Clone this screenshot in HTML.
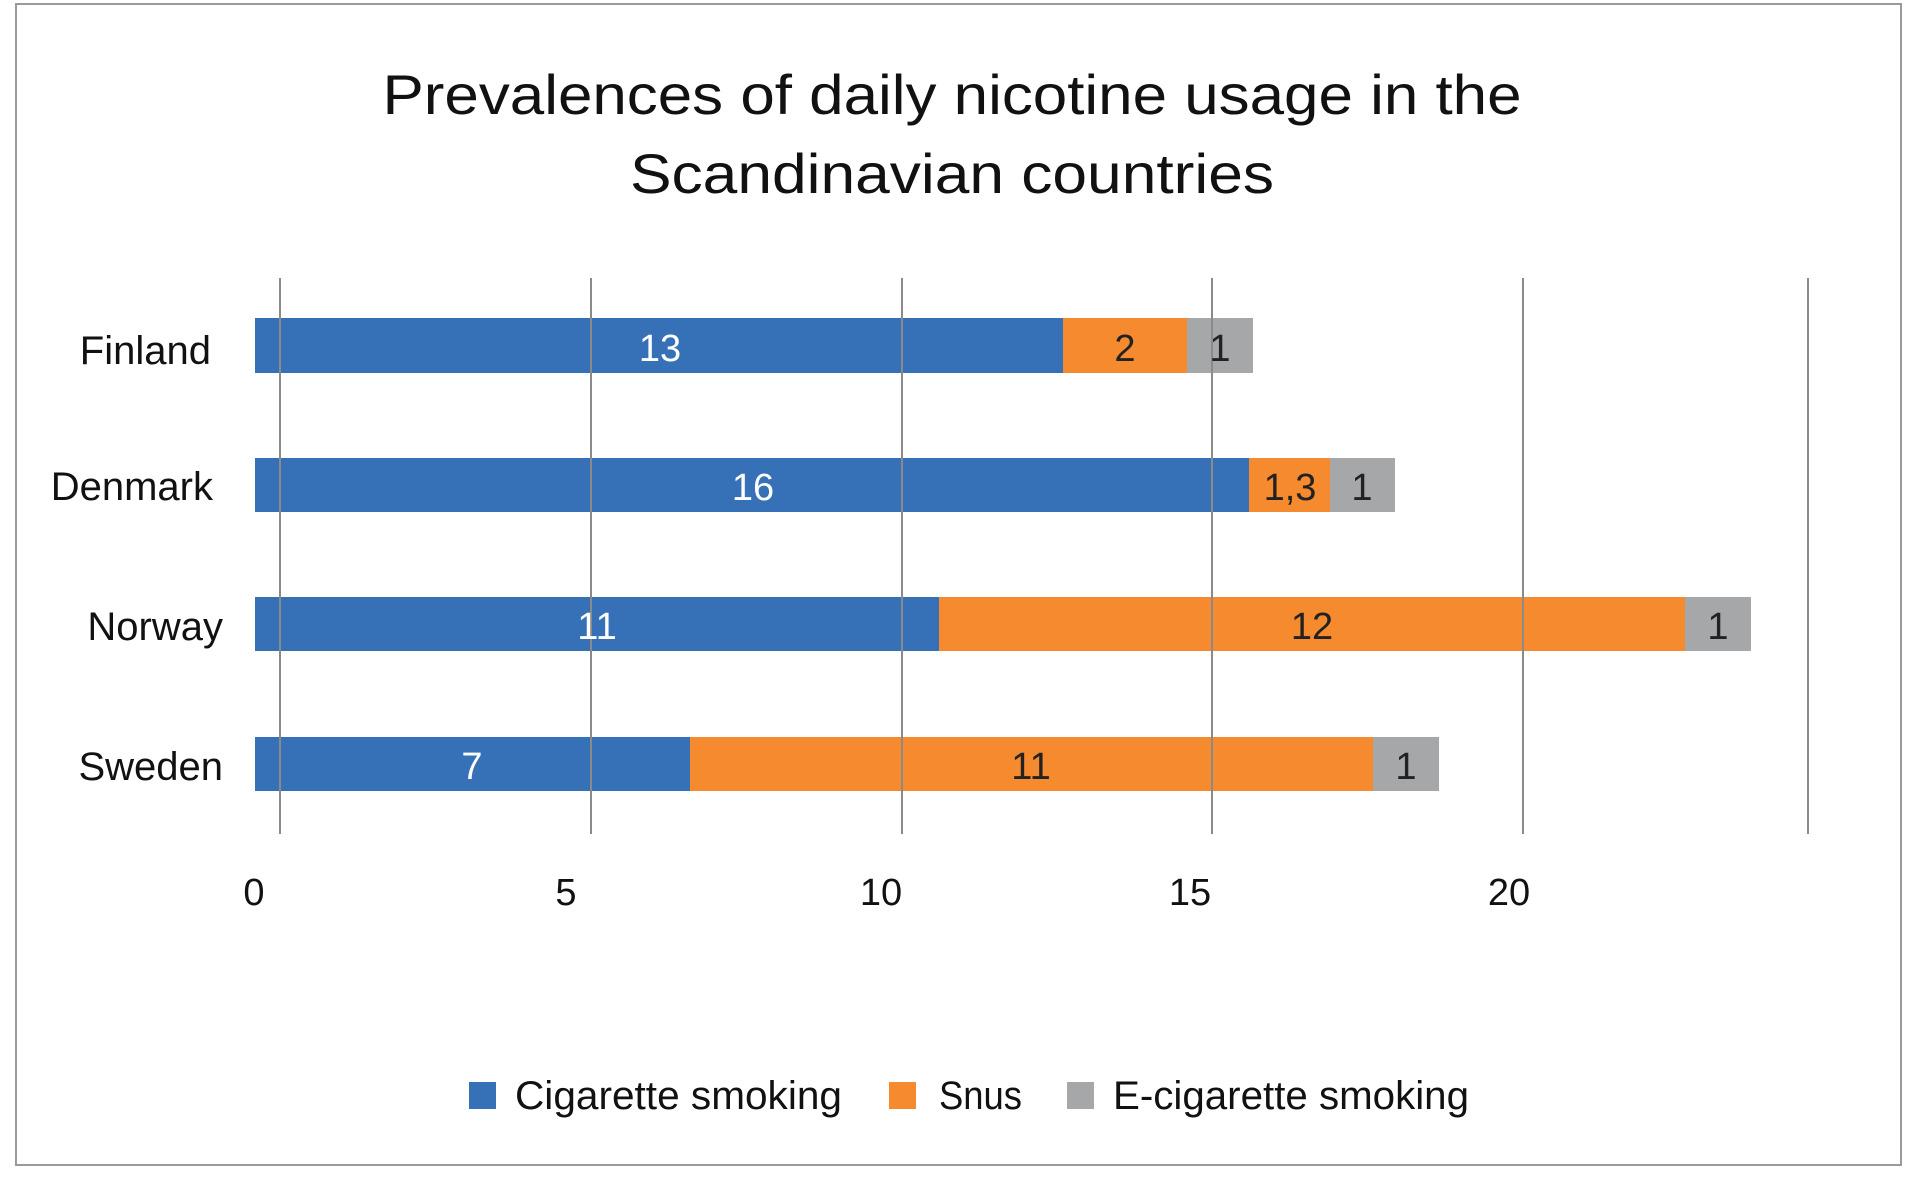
<!DOCTYPE html>
<html><head><meta charset="utf-8"><style>html,body{margin:0;padding:0;background:#fff}svg{display:block}</style></head>
<body>
<svg width="1920" height="1179" viewBox="0 0 1920 1179" xmlns="http://www.w3.org/2000/svg" font-family="Liberation Sans, sans-serif">
<rect x="0" y="0" width="1920" height="1179" fill="#fff"/>
<rect x="16" y="4" width="1885" height="1161" fill="none" stroke="#9a9a9a" stroke-width="2"/>
<text x="952" y="114" font-size="56" text-anchor="middle" fill="#111" textLength="1139" lengthAdjust="spacingAndGlyphs">Prevalences of daily nicotine usage in the</text>
<text x="952" y="193" font-size="56" text-anchor="middle" fill="#111" textLength="644" lengthAdjust="spacingAndGlyphs">Scandinavian countries</text>
<!-- bars -->
<g>
<rect x="255" y="318" width="808" height="55" fill="#3671b8"/>
<rect x="1063" y="318" width="124" height="55" fill="#f58a2f"/>
<rect x="1187" y="318" width="66" height="55" fill="#a6a7a9"/>
<rect x="255" y="458" width="994" height="54" fill="#3671b8"/>
<rect x="1249" y="458" width="81" height="54" fill="#f58a2f"/>
<rect x="1330" y="458" width="65" height="54" fill="#a6a7a9"/>
<rect x="255" y="597" width="684" height="54" fill="#3671b8"/>
<rect x="939" y="597" width="746" height="54" fill="#f58a2f"/>
<rect x="1685" y="597" width="66" height="54" fill="#a6a7a9"/>
<rect x="255" y="737" width="435" height="54" fill="#3671b8"/>
<rect x="690" y="737" width="683" height="54" fill="#f58a2f"/>
<rect x="1373" y="737" width="66" height="54" fill="#a6a7a9"/>
</g>
<g stroke="#8a8a8a" stroke-width="2">
<line x1="280" y1="278" x2="280" y2="834"/>
<line x1="591" y1="278" x2="591" y2="834"/>
<line x1="902" y1="278" x2="902" y2="834"/>
<line x1="1212" y1="278" x2="1212" y2="834"/>
<line x1="1523" y1="278" x2="1523" y2="834"/>
<line x1="1808" y1="278" x2="1808" y2="834"/>
</g>
<g font-size="38" text-anchor="middle">
<text x="660" y="361" fill="#fff">13</text>
<text x="1125" y="361" fill="#222">2</text>
<text x="1220" y="361" fill="#222">1</text>
<text x="753" y="500" fill="#fff">16</text>
<text x="1290" y="500" fill="#222">1,3</text>
<text x="1362" y="500" fill="#222">1</text>
<text x="597" y="639" fill="#fff">11</text>
<text x="1312" y="639" fill="#222">12</text>
<text x="1718" y="639" fill="#222">1</text>
<text x="472" y="779" fill="#fff">7</text>
<text x="1031" y="779" fill="#222">11</text>
<text x="1406" y="779" fill="#222">1</text>
</g>
<g font-size="40" text-anchor="end" fill="#111">
<text x="211" y="364">Finland</text>
<text x="213" y="500">Denmark</text>
<text x="223" y="640">Norway</text>
<text x="223" y="780">Sweden</text>
</g>
<g font-size="38" text-anchor="middle" fill="#111">
<text x="254" y="905">0</text>
<text x="566" y="905">5</text>
<text x="881" y="905">10</text>
<text x="1190" y="905">15</text>
<text x="1509" y="905">20</text>
</g>
<g font-size="40" fill="#111">
<rect x="469" y="1082" width="27" height="27" fill="#3671b8"/>
<text x="515" y="1109" textLength="327" lengthAdjust="spacingAndGlyphs">Cigarette smoking</text>
<rect x="889" y="1082" width="27" height="27" fill="#f58a2f"/>
<text x="939" y="1109" textLength="83" lengthAdjust="spacingAndGlyphs">Snus</text>
<rect x="1067" y="1082" width="27" height="27" fill="#a6a7a9"/>
<text x="1113" y="1109" textLength="356" lengthAdjust="spacingAndGlyphs">E-cigarette smoking</text>
</g>
</svg>
</body></html>
